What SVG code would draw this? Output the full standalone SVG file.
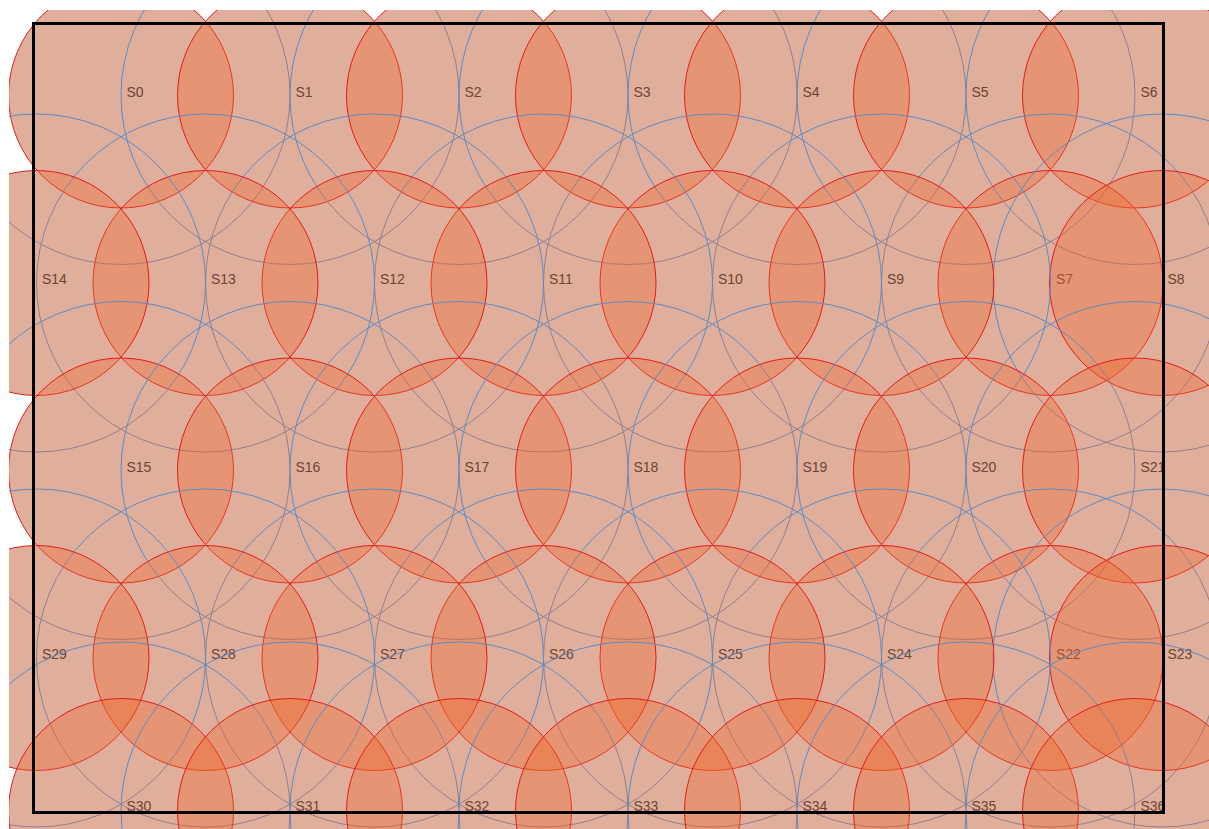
<svg xmlns="http://www.w3.org/2000/svg" width="1209" height="829" viewBox="0 0 1209 829">
<style>
.base{fill:#D5D8DA;stroke:none}
.cov{fill:#F0672D;fill-opacity:0.36;stroke:#E31B1B;stroke-width:1}
.com{fill:none;stroke:#5A8CC8;stroke-width:1}
.lbl{font-family:"Liberation Sans",Arial,sans-serif;font-size:14px;fill:#6e4434}
.field{fill:none;stroke:#000;stroke-width:3}
</style>
<defs>
<clipPath id="clip"><rect x="9" y="10" width="1200" height="819"/></clipPath>
</defs>
<rect width="1209" height="829" fill="#fff"/>
<g clip-path="url(#clip)">
<g id="coverage-base">
<circle class="base" cx="121" cy="95.5" r="112.5"/><circle class="base" cx="290" cy="95.5" r="112.5"/><circle class="base" cx="459" cy="95.5" r="112.5"/><circle class="base" cx="628" cy="95.5" r="112.5"/><circle class="base" cx="797" cy="95.5" r="112.5"/><circle class="base" cx="966" cy="95.5" r="112.5"/><circle class="base" cx="1135" cy="95.5" r="112.5"/>
<circle class="base" cx="1050.5" cy="283" r="112.5"/><circle class="base" cx="1162" cy="283" r="112.5"/><circle class="base" cx="881.5" cy="283" r="112.5"/><circle class="base" cx="712.5" cy="283" r="112.5"/><circle class="base" cx="543.5" cy="283" r="112.5"/><circle class="base" cx="374.5" cy="283" r="112.5"/><circle class="base" cx="205.5" cy="283" r="112.5"/><circle class="base" cx="36.5" cy="283" r="112.5"/>
<circle class="base" cx="121" cy="470.5" r="112.5"/><circle class="base" cx="290" cy="470.5" r="112.5"/><circle class="base" cx="459" cy="470.5" r="112.5"/><circle class="base" cx="628" cy="470.5" r="112.5"/><circle class="base" cx="797" cy="470.5" r="112.5"/><circle class="base" cx="966" cy="470.5" r="112.5"/><circle class="base" cx="1135" cy="470.5" r="112.5"/>
<circle class="base" cx="1050.5" cy="658" r="112.5"/><circle class="base" cx="1162" cy="658" r="112.5"/><circle class="base" cx="881.5" cy="658" r="112.5"/><circle class="base" cx="712.5" cy="658" r="112.5"/><circle class="base" cx="543.5" cy="658" r="112.5"/><circle class="base" cx="374.5" cy="658" r="112.5"/><circle class="base" cx="205.5" cy="658" r="112.5"/><circle class="base" cx="36.5" cy="658" r="112.5"/>
<circle class="base" cx="121" cy="811" r="112.5"/><circle class="base" cx="290" cy="811" r="112.5"/><circle class="base" cx="459" cy="811" r="112.5"/><circle class="base" cx="628" cy="811" r="112.5"/><circle class="base" cx="797" cy="811" r="112.5"/><circle class="base" cx="966" cy="811" r="112.5"/><circle class="base" cx="1135" cy="811" r="112.5"/>
</g>
<g id="S0"><circle class="com" cx="121" cy="95.5" r="169"/><circle class="cov" cx="121" cy="95.5" r="112.5"/><text class="lbl" x="126.5" y="96.5">S0</text></g>
<g id="S1"><circle class="com" cx="290" cy="95.5" r="169"/><circle class="cov" cx="290" cy="95.5" r="112.5"/><text class="lbl" x="295.5" y="96.5">S1</text></g>
<g id="S2"><circle class="com" cx="459" cy="95.5" r="169"/><circle class="cov" cx="459" cy="95.5" r="112.5"/><text class="lbl" x="464.5" y="96.5">S2</text></g>
<g id="S3"><circle class="com" cx="628" cy="95.5" r="169"/><circle class="cov" cx="628" cy="95.5" r="112.5"/><text class="lbl" x="633.5" y="96.5">S3</text></g>
<g id="S4"><circle class="com" cx="797" cy="95.5" r="169"/><circle class="cov" cx="797" cy="95.5" r="112.5"/><text class="lbl" x="802.5" y="96.5">S4</text></g>
<g id="S5"><circle class="com" cx="966" cy="95.5" r="169"/><circle class="cov" cx="966" cy="95.5" r="112.5"/><text class="lbl" x="971.5" y="96.5">S5</text></g>
<g id="S6"><circle class="com" cx="1135" cy="95.5" r="169"/><circle class="cov" cx="1135" cy="95.5" r="112.5"/><text class="lbl" x="1140.5" y="96.5">S6</text></g>
<g id="S7"><circle class="com" cx="1050.5" cy="283" r="169"/><circle class="cov" cx="1050.5" cy="283" r="112.5"/><text class="lbl" x="1056" y="284">S7</text></g>
<g id="S8"><circle class="com" cx="1162" cy="283" r="169"/><circle class="cov" cx="1162" cy="283" r="112.5"/><text class="lbl" x="1167.5" y="284">S8</text></g>
<g id="S9"><circle class="com" cx="881.5" cy="283" r="169"/><circle class="cov" cx="881.5" cy="283" r="112.5"/><text class="lbl" x="887" y="284">S9</text></g>
<g id="S10"><circle class="com" cx="712.5" cy="283" r="169"/><circle class="cov" cx="712.5" cy="283" r="112.5"/><text class="lbl" x="718" y="284">S10</text></g>
<g id="S11"><circle class="com" cx="543.5" cy="283" r="169"/><circle class="cov" cx="543.5" cy="283" r="112.5"/><text class="lbl" x="549" y="284">S11</text></g>
<g id="S12"><circle class="com" cx="374.5" cy="283" r="169"/><circle class="cov" cx="374.5" cy="283" r="112.5"/><text class="lbl" x="380" y="284">S12</text></g>
<g id="S13"><circle class="com" cx="205.5" cy="283" r="169"/><circle class="cov" cx="205.5" cy="283" r="112.5"/><text class="lbl" x="211" y="284">S13</text></g>
<g id="S14"><circle class="com" cx="36.5" cy="283" r="169"/><circle class="cov" cx="36.5" cy="283" r="112.5"/><text class="lbl" x="42" y="284">S14</text></g>
<g id="S15"><circle class="com" cx="121" cy="470.5" r="169"/><circle class="cov" cx="121" cy="470.5" r="112.5"/><text class="lbl" x="126.5" y="471.5">S15</text></g>
<g id="S16"><circle class="com" cx="290" cy="470.5" r="169"/><circle class="cov" cx="290" cy="470.5" r="112.5"/><text class="lbl" x="295.5" y="471.5">S16</text></g>
<g id="S17"><circle class="com" cx="459" cy="470.5" r="169"/><circle class="cov" cx="459" cy="470.5" r="112.5"/><text class="lbl" x="464.5" y="471.5">S17</text></g>
<g id="S18"><circle class="com" cx="628" cy="470.5" r="169"/><circle class="cov" cx="628" cy="470.5" r="112.5"/><text class="lbl" x="633.5" y="471.5">S18</text></g>
<g id="S19"><circle class="com" cx="797" cy="470.5" r="169"/><circle class="cov" cx="797" cy="470.5" r="112.5"/><text class="lbl" x="802.5" y="471.5">S19</text></g>
<g id="S20"><circle class="com" cx="966" cy="470.5" r="169"/><circle class="cov" cx="966" cy="470.5" r="112.5"/><text class="lbl" x="971.5" y="471.5">S20</text></g>
<g id="S21"><circle class="com" cx="1135" cy="470.5" r="169"/><circle class="cov" cx="1135" cy="470.5" r="112.5"/><text class="lbl" x="1140.5" y="471.5">S21</text></g>
<g id="S22"><circle class="com" cx="1050.5" cy="658" r="169"/><circle class="cov" cx="1050.5" cy="658" r="112.5"/><text class="lbl" x="1056" y="659">S22</text></g>
<g id="S23"><circle class="com" cx="1162" cy="658" r="169"/><circle class="cov" cx="1162" cy="658" r="112.5"/><text class="lbl" x="1167.5" y="659">S23</text></g>
<g id="S24"><circle class="com" cx="881.5" cy="658" r="169"/><circle class="cov" cx="881.5" cy="658" r="112.5"/><text class="lbl" x="887" y="659">S24</text></g>
<g id="S25"><circle class="com" cx="712.5" cy="658" r="169"/><circle class="cov" cx="712.5" cy="658" r="112.5"/><text class="lbl" x="718" y="659">S25</text></g>
<g id="S26"><circle class="com" cx="543.5" cy="658" r="169"/><circle class="cov" cx="543.5" cy="658" r="112.5"/><text class="lbl" x="549" y="659">S26</text></g>
<g id="S27"><circle class="com" cx="374.5" cy="658" r="169"/><circle class="cov" cx="374.5" cy="658" r="112.5"/><text class="lbl" x="380" y="659">S27</text></g>
<g id="S28"><circle class="com" cx="205.5" cy="658" r="169"/><circle class="cov" cx="205.5" cy="658" r="112.5"/><text class="lbl" x="211" y="659">S28</text></g>
<g id="S29"><circle class="com" cx="36.5" cy="658" r="169"/><circle class="cov" cx="36.5" cy="658" r="112.5"/><text class="lbl" x="42" y="659">S29</text></g>
<g id="S30"><circle class="com" cx="121" cy="811" r="169"/><circle class="cov" cx="121" cy="811" r="112.5"/><text class="lbl" x="126.5" y="811">S30</text></g>
<g id="S31"><circle class="com" cx="290" cy="811" r="169"/><circle class="cov" cx="290" cy="811" r="112.5"/><text class="lbl" x="295.5" y="811">S31</text></g>
<g id="S32"><circle class="com" cx="459" cy="811" r="169"/><circle class="cov" cx="459" cy="811" r="112.5"/><text class="lbl" x="464.5" y="811">S32</text></g>
<g id="S33"><circle class="com" cx="628" cy="811" r="169"/><circle class="cov" cx="628" cy="811" r="112.5"/><text class="lbl" x="633.5" y="811">S33</text></g>
<g id="S34"><circle class="com" cx="797" cy="811" r="169"/><circle class="cov" cx="797" cy="811" r="112.5"/><text class="lbl" x="802.5" y="811">S34</text></g>
<g id="S35"><circle class="com" cx="966" cy="811" r="169"/><circle class="cov" cx="966" cy="811" r="112.5"/><text class="lbl" x="971.5" y="811">S35</text></g>
<g id="S36"><circle class="com" cx="1135" cy="811" r="169"/><circle class="cov" cx="1135" cy="811" r="112.5"/><text class="lbl" x="1140.5" y="811">S36</text></g>
</g>
<g id="connectors"/>
<rect id="field" class="field" x="33.5" y="23.5" width="1130" height="789"/>
</svg>
